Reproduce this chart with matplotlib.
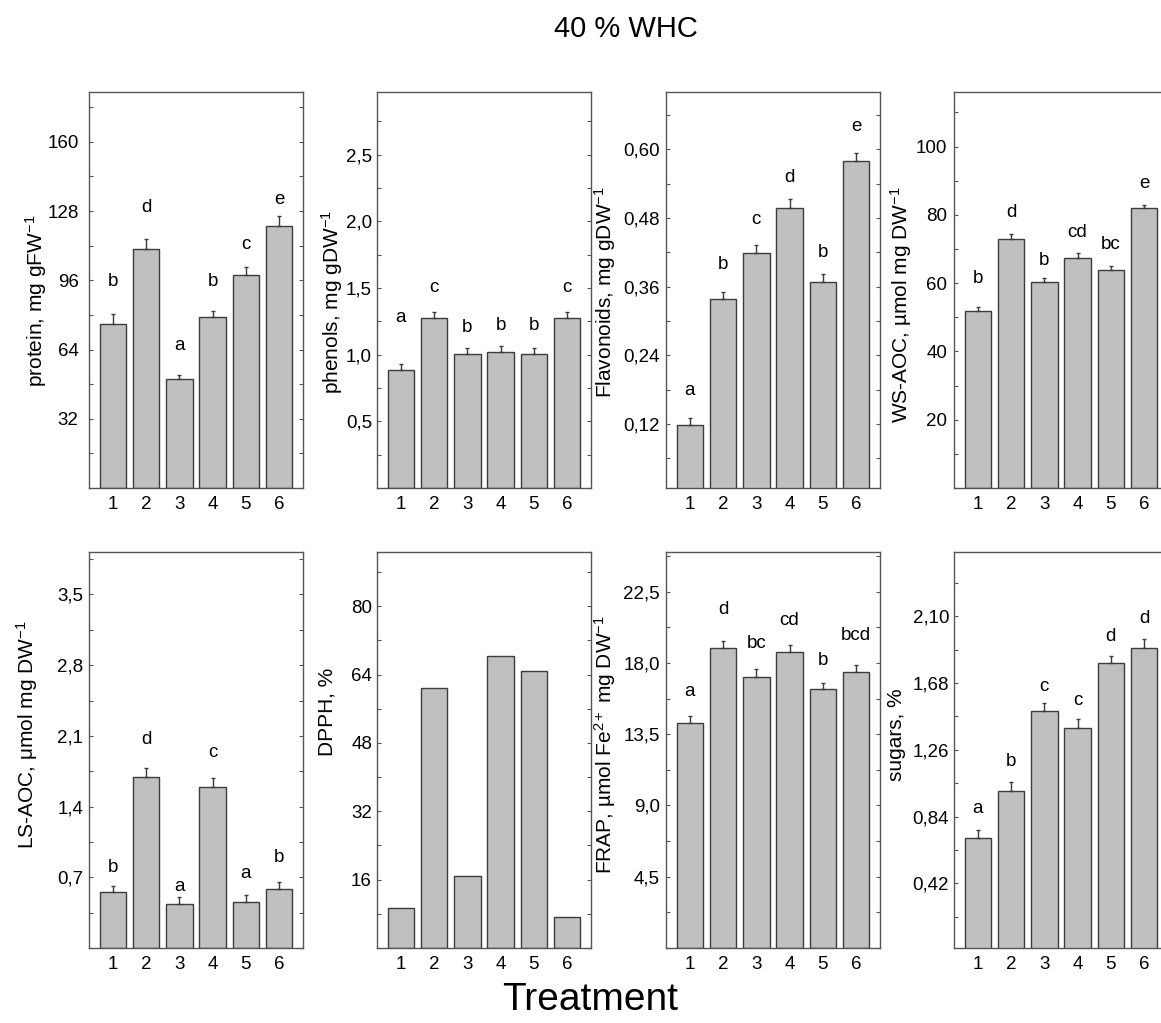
import matplotlib
matplotlib.use('Agg')
from matplotlib import pyplot as plt
from matplotlib.ticker import FixedLocator, MultipleLocator, FuncFormatter
import numpy as np

treatments = [1, 2, 3, 4, 5, 6]

protein = [75.9, 110.5, 50.2, 79.2, 98.4, 121.3]
protein_err = [4.7, 4.7, 1.9, 2.8, 3.6, 4.6]
protein_letters = ['b', 'd', 'a', 'b', 'c', 'e']
protein_letter_y = [95.2, 129.5, 65.7, 95.2, 112.4, 133.4]

phenols = [0.887, 1.278, 1.007, 1.02, 1.007, 1.278]
phenols_err = [0.045, 0.04, 0.04, 0.045, 0.04, 0.04]
phenols_letters = ['a', 'c', 'b', 'b', 'b', 'c']
phenols_letter_y = [1.276, 1.50, 1.205, 1.218, 1.218, 1.50]

flavonoids = [0.118, 0.338, 0.418, 0.497, 0.368, 0.579]
flavonoids_err = [0.013, 0.012, 0.015, 0.016, 0.014, 0.014]
flavonoids_letters = ['a', 'b', 'c', 'd', 'b', 'e']
flavonoids_letter_y = [0.178, 0.399, 0.477, 0.55, 0.419, 0.640]

ws_aoc = [51.8, 72.9, 60.3, 67.4, 63.8, 82.0]
ws_aoc_err = [1.1, 1.5, 1.2, 1.4, 1.2, 1.0]
ws_aoc_letters = ['b', 'd', 'b', 'cd', 'bc', 'e']
ws_aoc_letter_y = [61.4, 80.7, 66.5, 74.8, 71.2, 89.2]

ls_aoc = [0.554, 1.69, 0.436, 1.59, 0.455, 0.58]
ls_aoc_err = [0.06, 0.09, 0.064, 0.09, 0.065, 0.07]
ls_aoc_letters = ['b', 'd', 'a', 'c', 'a', 'b']
ls_aoc_letter_y = [0.80, 2.06, 0.607, 1.94, 0.733, 0.898]

dpph = [9.4, 60.8, 16.9, 68.3, 64.8, 7.3]

frap = [14.2, 18.95, 17.1, 18.7, 16.36, 17.43]
frap_err = [0.46, 0.45, 0.5, 0.4, 0.38, 0.45]
frap_letters = ['a', 'd', 'bc', 'cd', 'b', 'bcd']
frap_letter_y = [16.17, 21.4, 19.2, 20.7, 18.13, 19.7]

sugars = [0.705, 1.0, 1.504, 1.40, 1.806, 1.90]
sugars_err = [0.05, 0.057, 0.05, 0.054, 0.045, 0.057]
sugars_letters = ['a', 'b', 'c', 'c', 'd', 'd']
sugars_letter_y = [0.892, 1.185, 1.657, 1.573, 1.976, 2.087]

FONT = 'Liberation Sans'
plt.rcParams['font.family'] = [FONT, 'DejaVu Sans']
plt.rcParams['mathtext.fontset'] = 'custom'
plt.rcParams['mathtext.rm'] = FONT
plt.rcParams['mathtext.it'] = FONT
plt.rcParams['mathtext.default'] = 'regular'

FS_TICK = 13.5
FS_LETTER = 13.5
FS_LABEL = 15

W, H = 1161, 1023
BAR_COLOR = '#c0c0c0'
EDGE = '#3c3c3c'
SPINE = '#555555'

panels = [
    # values, err, letters, letter_y, ylabel, ylim, yticks, minor, decimals
    (protein, protein_err, protein_letters, protein_letter_y,
     'protein, mg gFW$^{-1}$', (0, 183), [32, 64, 96, 128, 160], 16, 0),
    (phenols, phenols_err, phenols_letters, phenols_letter_y,
     'phenols, mg gDW$^{-1}$', (0, 2.97), [0.5, 1.0, 1.5, 2.0, 2.5], 0.25, 1),
    (flavonoids, flavonoids_err, flavonoids_letters, flavonoids_letter_y,
     'Flavonoids, mg gDW$^{-1}$', (0.008, 0.70), [0.12, 0.24, 0.36, 0.48, 0.60], 0.06, 2),
    (ws_aoc, ws_aoc_err, ws_aoc_letters, ws_aoc_letter_y,
     'WS-AOC, µmol mg DW$^{-1}$', (0, 116), [20, 40, 60, 80, 100], 10, 0),
    (ls_aoc, ls_aoc_err, ls_aoc_letters, ls_aoc_letter_y,
     'LS-AOC, μmol mg DW$^{-1}$', (0, 3.92), [0.7, 1.4, 2.1, 2.8, 3.5], 0.35, 1),
    (dpph, None, None, None,
     'DPPH, %', (0, 92.7), [16, 32, 48, 64, 80], 8, 0),
    (frap, frap_err, frap_letters, frap_letter_y,
     'FRAP, µmol Fe$^{2+}$ mg DW$^{-1}$', (0, 25), [4.5, 9.0, 13.5, 18.0, 22.5], 2.25, 1),
    (sugars, sugars_err, sugars_letters, sugars_letter_y,
     'sugars, %', (0.013, 2.505), [0.42, 0.84, 1.26, 1.68, 2.10], 0.21, 2),
]

# pixel layout of the reference
col_left = [89, 377, 666, 954]
ax_w = 214
row_top = [92, 552]
ax_h = 396
tick_pad = [7.5, 3.6, 4.3, 5.0, 4.3, 3.6, 4.3, 3.6]
label_x = [36, 332, 605, 901, 27, 327, 605, 897]
label_yc = [301, 302, 292, 305, 735, 712, 745, 735]

fig = plt.figure(figsize=(W / 100, H / 100), dpi=100)

for i, (vals, err, letters, letter_y, ylabel, ylim, yticks, minor, dec) in enumerate(panels):
    row, col = divmod(i, 4)
    left, top = col_left[col], row_top[row]
    ax = fig.add_axes([left / W, 1 - (top + ax_h) / H, ax_w / W, ax_h / H])

    ax.bar(treatments, vals, width=0.8, color=BAR_COLOR, edgecolor=EDGE, linewidth=1.0, zorder=2)
    if err is not None:
        ax.errorbar(treatments, vals, yerr=[np.zeros(len(err)), err], fmt='none',
                    ecolor=EDGE, elinewidth=1.0, capsize=1.5, capthick=1.0, zorder=3)
        for x, ly, lt in zip(treatments, letter_y, letters):
            ax.text(x, ly, lt, ha='center', va='center', fontsize=FS_LETTER)

    ax.set_xlim(0.28, 6.72)
    ax.set_ylim(*ylim)
    ax.set_xticks(treatments)
    ax.yaxis.set_major_locator(FixedLocator(yticks))
    ax.yaxis.set_minor_locator(MultipleLocator(minor))
    ax.yaxis.set_major_formatter(FuncFormatter(
        lambda v, p, d=dec: f'{v:.{d}f}'.replace('.', ',')))

    ax.tick_params(axis='x', length=0, pad=6, labelsize=FS_TICK)
    ax.tick_params(axis='y', which='both', direction='in', left=True, right=True,
                   length=3, width=0.8, color=SPINE, pad=tick_pad[i], labelsize=FS_TICK)
    for s in ax.spines.values():
        s.set_color(SPINE)
        s.set_linewidth(1.0)

    ax.set_ylabel(ylabel, fontsize=FS_LABEL, va='center')
    ax.yaxis.set_label_coords((label_x[i] - left) / ax_w, (top + ax_h - label_yc[i]) / ax_h)

fig.text(626 / W, 1 - 29 / H, '40 % WHC', ha='center', va='center', fontsize=21)
fig.text(590 / W, 1 - 1000 / H, 'Treatment', ha='center', va='center', fontsize=28)

fig.savefig('out.png', dpi=100, facecolor='white')
